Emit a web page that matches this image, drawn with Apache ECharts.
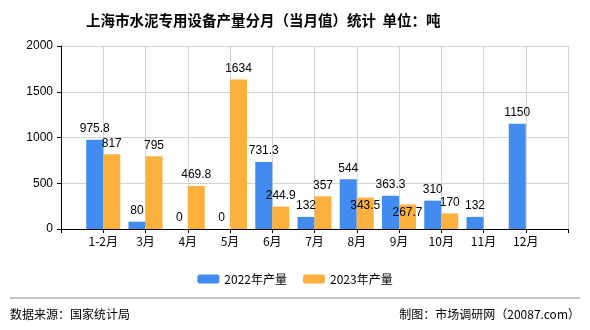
<!DOCTYPE html>
<html>
<head>
<meta charset="utf-8">
<script src="https://cdn.jsdelivr.net/npm/echarts@6/dist/echarts.min.js"></script>
<style>
  html, body { margin: 0; padding: 0; background: #fff; }
  #chart { width: 590px; height: 330px; }
</style>
</head>
<body>
<div id="chart"></div>
<script>
// Monthly output, tonnes
const months = ['1-2月', '3月', '4月', '5月', '6月', '7月', '8月', '9月', '10月', '11月', '12月'];
const output2022 = [975.8, 80, 0, 0, 731.3, 132, 544, 363.3, 310, 132, 1150];
const output2023 = [817, 795, 469.8, 1634, 244.9, 357, 343.5, 267.7, 170, null, null];
const yTicks = [0, 500, 1000, 1500, 2000];

// Months whose 2023 label sits lower to clear the neighbouring bar
const lowered2023 = ['8月', '9月'];

const BLUE = '#428BEF';
const ORANGE = '#FCB13F';
const FONT = '"Liberation Sans", Arial, sans-serif';
const CJK = '"Noto Sans CJK SC", sans-serif';

// Axis runs edge to edge with an empty slot at each end
const cats = [''].concat(months, ['']);
function pad(arr) {
  return ['-'].concat(arr.map(v => (v === null ? '-' : v)), ['-']);
}

const data2022 = pad(output2022);
const data2023 = pad(output2023).map((v, i) => {
  if (v !== '-' && lowered2023.indexOf(cats[i]) >= 0) {
    return { value: v, label: { offset: [0, 19] } };
  }
  return v;
});

const labelStyle = {
  show: true,
  position: 'top',
  distance: 5,
  color: '#000',
  fontSize: 12,
  fontFamily: FONT
};

const chart = echarts.init(document.getElementById('chart'), null, { renderer: 'canvas' });
chart.setOption({
  backgroundColor: '#fff',
  animation: false,
  title: {
    text: '上海市水泥专用设备产量分月（当月值）统计  单位：吨',
    left: 81,
    top: 8,
    textStyle: { fontSize: 14.5, fontWeight: 'bold', color: '#000', fontFamily: CJK }
  },
  legend: {
    top: 268,
    left: 'center',
    itemWidth: 22,
    itemHeight: 9,
    itemGap: 16,
    textStyle: { fontSize: 12, color: '#000', fontFamily: CJK },
    data: ['2022年产量', '2023年产量']
  },
  grid: { left: 61, right: 22, top: 46, bottom: 101, containLabel: false },
  xAxis: {
    type: 'category',
    data: cats,
    boundaryGap: false,
    axisLine: { lineStyle: { color: '#000' } },
    axisTick: { show: true, interval: 0, length: 4, lineStyle: { color: '#000' } },
    axisLabel: { interval: 0, color: '#000', fontSize: 12, fontFamily: CJK, margin: 6 },
    splitLine: { show: true, interval: 0, lineStyle: { color: '#d3d3d3' } }
  },
  yAxis: {
    type: 'value',
    min: yTicks[0],
    max: yTicks[yTicks.length - 1],
    interval: yTicks[1] - yTicks[0],
    axisLine: { show: true, lineStyle: { color: '#000' } },
    axisTick: { show: true, length: 4, lineStyle: { color: '#000' } },
    axisLabel: { color: '#000', fontSize: 12, fontFamily: FONT, margin: 8, formatter: v => String(v) },
    splitLine: { show: true, lineStyle: { color: '#d3d3d3' } }
  },
  series: [
    {
      name: '2022年产量',
      type: 'bar',
      data: data2022,
      barWidth: 17,
      barGap: '0%',
      itemStyle: { color: BLUE },
      label: labelStyle
    },
    {
      name: '2023年产量',
      type: 'bar',
      data: data2023,
      barWidth: 17,
      barGap: '0%',
      itemStyle: { color: ORANGE },
      label: labelStyle
    }
  ],
  graphic: [
    {
      type: 'line',
      shape: { x1: 10, y1: 298, x2: 580, y2: 298 },
      style: { stroke: '#888', lineWidth: 1 }
    },
    {
      type: 'text',
      left: 10,
      top: 308,
      style: { text: '数据来源：国家统计局', fontSize: 12, fill: '#000', fontFamily: CJK }
    },
    {
      type: 'text',
      right: 10,
      top: 308,
      style: { text: '制图：市场调研网（20087.com）', fontSize: 12, fill: '#000', fontFamily: CJK }
    }
  ]
});
</script>
</body>
</html>
